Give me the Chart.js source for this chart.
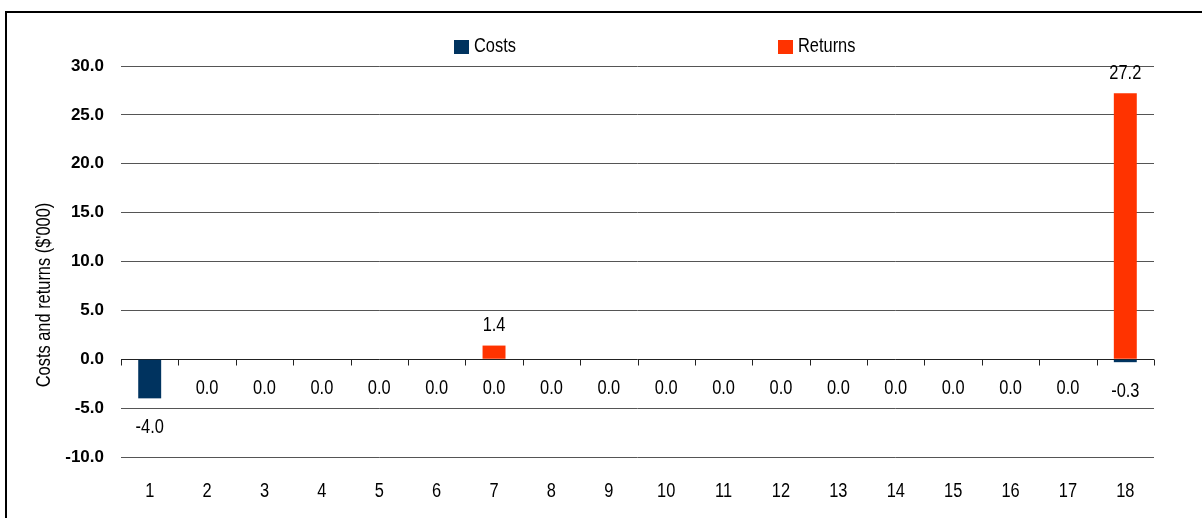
<!DOCTYPE html>
<html>
<head>
<meta charset="utf-8">
<script src="https://cdn.jsdelivr.net/npm/chart.js@4.4.1/dist/chart.umd.min.js"></script>
<style>
  html, body { margin: 0; padding: 0; background: #fff; }
  #wrap { position: relative; width: 1202px; height: 518px; overflow: hidden; }
  #frame { position: absolute; left: 5px; top: 11px; right: -10px; bottom: -10px;
           border-top: 2px solid #000; border-left: 2px solid #000; }
  #chart { position: absolute; left: 0; top: 0; }
</style>
</head>
<body>
<div id="wrap">
  <div id="frame"></div>
  <canvas id="chart" width="1202" height="518"></canvas>
</div>
<script>
// years of the program
const years = ['1', '2', '3', '4', '5', '6', '7', '8', '9', '10', '11', '12', '13', '14', '15', '16', '17', '18'];
// $'000 per year
const costs = [-4.0, 0, 0, 0, 0, 0, 0, 0, 0, 0, 0, 0, 0, 0, 0, 0, 0, -0.3];
const returns = [0, 0, 0, 0, 0, 0, 1.4, 0, 0, 0, 0, 0, 0, 0, 0, 0, 0, 27.2];
const yMin = -10, yMax = 30, yStep = 5;

const NAVY = '#00335f';
const ORANGE = '#ff3300';
const FONT = '"Liberation Sans", Arial, sans-serif';

Chart.defaults.font.family = FONT;
Chart.defaults.color = '#000';

// no narrow face installed, so squeeze regular text horizontally
function narrowText(ctx, text, x, y, align) {
  ctx.save();
  ctx.translate(x, y);
  ctx.scale(0.82, 1);
  ctx.textAlign = align || 'center';
  ctx.textBaseline = 'middle';
  ctx.font = '20px ' + FONT;
  ctx.fillStyle = '#000';
  ctx.fillText(text, 0, 0);
  ctx.restore();
}

// small ticks hanging off the zero line between categories
const zeroTicks = {
  id: 'zeroTicks',
  afterDatasetsDraw(chart) {
    const { ctx, scales: { x, y } } = chart;
    const y0 = Math.round(y.getPixelForValue(0)) + 0.5;
    ctx.save();
    ctx.strokeStyle = '#222';
    ctx.lineWidth = 1;
    ctx.beginPath();
    for (let i = 0; i <= years.length; i++) {
      const px = Math.round(x.left + (x.right - x.left) * i / years.length) + 0.5;
      ctx.moveTo(px, y0);
      ctx.lineTo(px, y0 + 6);
    }
    ctx.stroke();
    ctx.restore();
  }
};

// category labels under the plot, condensed
const xLabels = {
  id: 'xLabels',
  afterDraw(chart) {
    const x = chart.scales.x;
    x.ticks.forEach((t, i) => {
      narrowText(chart.ctx, x.getLabelForValue(t.value), x.getPixelForTick(i), x.top + 34);
    });
  }
};

// value labels: costs under the bar end, returns above when non-zero
const valueLabels = {
  id: 'valueLabels',
  afterDatasetsDraw(chart) {
    chart.data.datasets.forEach((ds, di) => {
      chart.getDatasetMeta(di).data.forEach((bar, i) => {
        const v = ds.data[i];
        if (v > 0) narrowText(chart.ctx, v.toFixed(1), bar.x, bar.y - 20);
        else if (di === 0) narrowText(chart.ctx, v.toFixed(1), bar.x, bar.y + 29);
      });
    });
  }
};

// legend spread across the top
const topLegend = {
  id: 'topLegend',
  afterDraw(chart) {
    const ctx = chart.ctx;
    const slots = [454, 778];
    chart.data.datasets.forEach((ds, i) => {
      ctx.fillStyle = ds.backgroundColor;
      ctx.fillRect(slots[i], 40, 15, 14);
      narrowText(ctx, ds.label, slots[i] + 20, 46, 'left');
    });
  }
};

// rotated y axis title
const yTitle = {
  id: 'yTitle',
  afterDraw(chart) {
    const ctx = chart.ctx;
    ctx.save();
    ctx.translate(44, 295);
    ctx.rotate(-Math.PI / 2);
    narrowText(ctx, "Costs and returns ($'000)", 0, 0);
    ctx.restore();
  }
};

new Chart(document.getElementById('chart'), {
  type: 'bar',
  data: {
    labels: years,
    datasets: [
      { label: 'Costs', data: costs, backgroundColor: NAVY },
      { label: 'Returns', data: returns, backgroundColor: ORANGE }
    ]
  },
  options: {
    responsive: false,
    animation: false,
    categoryPercentage: 1,
    barPercentage: 0.4,
    layout: { padding: { left: 0, right: 48, top: 66, bottom: 0 } },
    plugins: {
      legend: { display: false },
      tooltip: { enabled: false }
    },
    scales: {
      x: {
        stacked: true,
        grid: { display: false, drawTicks: false },
        border: { display: false },
        ticks: { display: false },
        afterFit(s) { s.height = 61; }
      },
      y: {
        stacked: true,
        min: yMin,
        max: yMax,
        grid: {
          color: (c) => c.tick && c.tick.value === 0 ? '#222' : '#555',
          lineWidth: 1,
          drawTicks: false
        },
        border: { display: false },
        ticks: {
          stepSize: yStep,
          padding: 17,
          color: '#000',
          font: { size: 17, weight: 'bold' },
          callback: (v) => Number(v).toFixed(1)
        },
        afterFit(s) { s.width = 121; }
      }
    }
  },
  plugins: [zeroTicks, valueLabels, xLabels, topLegend, yTitle]
});
</script>
</body>
</html>
